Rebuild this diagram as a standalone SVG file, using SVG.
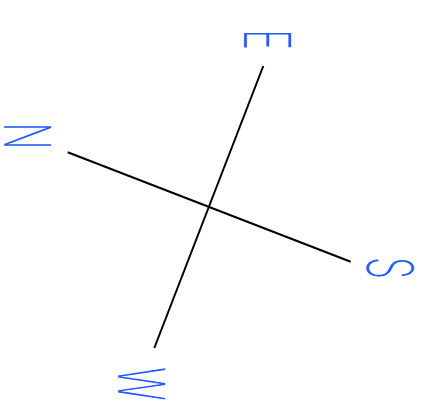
<svg xmlns="http://www.w3.org/2000/svg" width="428" height="414" viewBox="0 0 428 414">
<style>
.ln{stroke:#000;stroke-width:2;fill:none;stroke-linecap:butt}
.lb{font-family:"Inter","Lato","DejaVu Sans",sans-serif;font-weight:200;font-size:64px;fill:#1f5cff;text-anchor:middle}
</style>
<rect width="428" height="414" fill="#fff"/>
<g id="connectors">
<line class="ln" x1="67.7" y1="152.3" x2="350.7" y2="261.7"/>
<line class="ln" x1="263.3" y1="66" x2="154.3" y2="348"/>
</g>
<g id="N"><text class="lb" transform="translate(27.5,136) rotate(90) scale(0.55,1)" y="23">N</text></g>
<g id="E"><text class="lb" transform="translate(267.5,39.5) rotate(90) scale(0.55,1)" y="23">E</text></g>
<g id="S"><text class="lb" transform="translate(390,268) rotate(90) scale(0.55,1)" y="23">S</text></g>
<g id="W"><text class="lb" transform="translate(141,384) rotate(90) scale(0.55,1)" y="23">W</text></g>
</svg>
